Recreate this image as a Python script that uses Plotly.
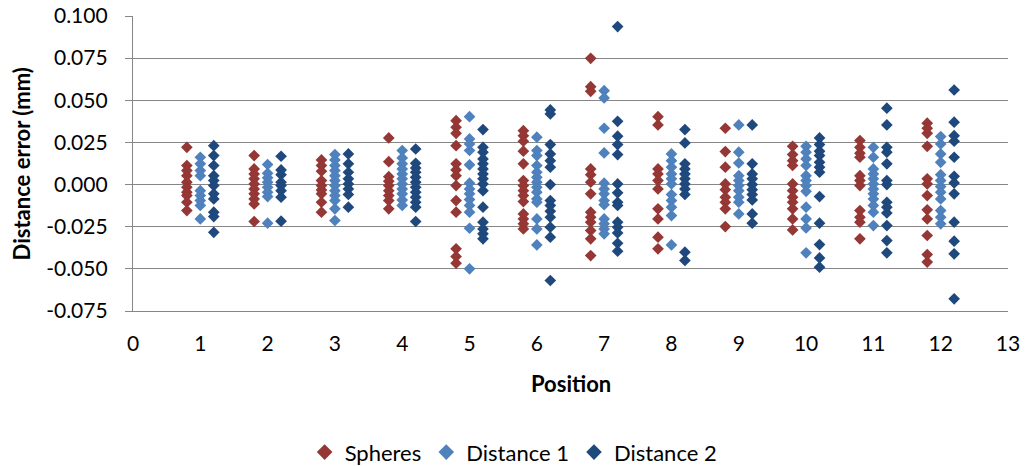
import plotly.graph_objects as go

positions = [1, 2, 3, 4, 5, 6, 7, 8, 9, 10, 11, 12]

spheres = [
    [0.0221, 0.0113, 0.0083, 0.0053, 0.0014, -0.0016, -0.0045, -0.0065, -0.0105, -0.0154],
    [0.0172, 0.0093, 0.0063, 0.0034, 0.0004, -0.0026, -0.0055, -0.0085, -0.0115, -0.0219],
    [0.0146, 0.0113, 0.0079, 0.0024, -0.0006, -0.0032, -0.0055, -0.0105, -0.0164],
    [0.0277, 0.0136, 0.0047, 0.0020, -0.0006, -0.0036, -0.0065, -0.0095, -0.0144],
    [0.0379, 0.0340, 0.0304, 0.0231, 0.0123, 0.0087, 0.0053, -0.0006, -0.0095, -0.0164, -0.0381, -0.0427, -0.0466],
    [0.0320, 0.0290, 0.0257, 0.0198, 0.0123, 0.0024, -0.0006, -0.0036, -0.0065, -0.0101, -0.0174, -0.0204, -0.0233, -0.0263],
    [0.0749, 0.0581, 0.0553, 0.0093, 0.0059, 0.0014, -0.0055, -0.0164, -0.0194, -0.0223, -0.0273, -0.0322, -0.0421],
    [0.0403, 0.0354, 0.0093, 0.0063, 0.0024, -0.0026, -0.0144, -0.0204, -0.0312, -0.0381],
    [0.0334, 0.0196, 0.0103, 0.0004, -0.0030, -0.0075, -0.0105, -0.0144, -0.0249],
    [0.0227, 0.0178, 0.0142, 0.0113, 0.0004, -0.0036, -0.0075, -0.0105, -0.0144, -0.0204, -0.0269],
    [0.0261, 0.0221, 0.0186, 0.0162, 0.0053, 0.0024, -0.0006, -0.0154, -0.0194, -0.0223, -0.0322],
    [0.0364, 0.0334, 0.0304, 0.0227, 0.0034, 0.0004, -0.0065, -0.0150, -0.0204, -0.0302, -0.0415, -0.0460],
]

distance1 = [
    [0.0162, 0.0123, 0.0083, 0.0053, -0.0036, -0.0065, -0.0095, -0.0124, -0.0204],
    [0.0119, 0.0067, 0.0040, 0.0014, -0.0016, -0.0045, -0.0071, -0.0229],
    [0.0178, 0.0146, 0.0113, 0.0083, 0.0053, 0.0024, -0.0006, -0.0036, -0.0065, -0.0095, -0.0144, -0.0213],
    [0.0202, 0.0158, 0.0123, 0.0093, 0.0063, 0.0034, 0.0004, -0.0026, -0.0055, -0.0091, -0.0124],
    [0.0403, 0.0271, 0.0241, 0.0202, 0.0117, 0.0008, -0.0026, -0.0055, -0.0089, -0.0124, -0.0164, -0.0259, -0.0500],
    [0.0281, 0.0202, 0.0172, 0.0113, 0.0073, 0.0043, 0.0014, -0.0016, -0.0045, -0.0085, -0.0105, -0.0204, -0.0263, -0.0358],
    [0.0557, 0.0514, 0.0334, 0.0188, 0.0008, -0.0026, -0.0055, -0.0095, -0.0119, -0.0204, -0.0233, -0.0263, -0.0292],
    [0.0182, 0.0142, 0.0103, 0.0063, 0.0034, 0.0004, -0.0059, -0.0095, -0.0134, -0.0184, -0.0358],
    [0.0354, 0.0192, 0.0128, 0.0053, 0.0024, -0.0006, -0.0036, -0.0075, -0.0105, -0.0174],
    [0.0227, 0.0192, 0.0152, 0.0113, 0.0053, 0.0024, -0.0006, -0.0040, -0.0134, -0.0204, -0.0257, -0.0405],
    [0.0221, 0.0162, 0.0093, 0.0063, 0.0034, 0.0004, -0.0026, -0.0055, -0.0085, -0.0124, -0.0164, -0.0243],
    [0.0285, 0.0241, 0.0182, 0.0132, 0.0059, 0.0024, -0.0012, -0.0045, -0.0085, -0.0154, -0.0194, -0.0233],
]

distance2 = [
    [0.0231, 0.0172, 0.0113, 0.0053, 0.0024, -0.0006, -0.0055, -0.0085, -0.0164, -0.0190, -0.0283],
    [0.0168, 0.0087, 0.0059, 0.0014, -0.0006, -0.0036, -0.0075, -0.0217],
    [0.0182, 0.0123, 0.0073, 0.0034, 0.0004, -0.0026, -0.0059, -0.0134],
    [0.0211, 0.0126, 0.0099, 0.0073, 0.0043, 0.0014, -0.0016, -0.0045, -0.0075, -0.0105, -0.0134, -0.0219],
    [0.0326, 0.0221, 0.0192, 0.0152, 0.0123, 0.0093, 0.0063, 0.0034, 0.0004, -0.0036, -0.0134, -0.0223, -0.0263, -0.0292, -0.0322],
    [0.0443, 0.0419, 0.0237, 0.0182, 0.0142, 0.0103, 0.0000, -0.0095, -0.0124, -0.0158, -0.0194, -0.0253, -0.0312, -0.0569],
    [0.0937, 0.0375, 0.0287, 0.0237, 0.0178, 0.0004, -0.0049, -0.0105, -0.0124, -0.0223, -0.0253, -0.0287, -0.0348, -0.0395],
    [0.0326, 0.0247, 0.0123, 0.0093, 0.0063, 0.0034, 0.0004, -0.0026, -0.0059, -0.0401, -0.0450],
    [0.0354, 0.0123, 0.0063, 0.0034, 0.0000, -0.0030, -0.0059, -0.0091, -0.0174, -0.0229],
    [0.0277, 0.0237, 0.0198, 0.0172, 0.0132, 0.0103, 0.0073, -0.0071, -0.0229, -0.0356, -0.0435, -0.0490],
    [0.0453, 0.0354, 0.0221, 0.0192, 0.0123, 0.0024, 0.0000, -0.0105, -0.0134, -0.0168, -0.0243, -0.0332, -0.0405],
    [0.0561, 0.0370, 0.0290, 0.0257, 0.0162, 0.0049, 0.0010, -0.0055, -0.0223, -0.0336, -0.0411, -0.0678],
]

series_names = ["Spheres", "Distance 1", "Distance 2"]
series_colors = ["#953735", "#4F81BD", "#1F497D"]
series_offsets = [-0.2, 0.0, 0.2]

y_tickvals = [-0.075, -0.05, -0.025, 0.0, 0.025, 0.05, 0.075, 0.1]
y_ticktext = ["-0.075", "-0.050", "-0.025", "0.000", "0.025", "0.050", "0.075", "0.100"]
x_tickvals = list(range(0, 14))

FONT = "Lato, Open Sans, sans-serif"

fig = go.Figure()
for name, color, off, data in zip(series_names, series_colors, series_offsets,
                                  [spheres, distance1, distance2]):
    xs, ys = [], []
    for p, vals in zip(positions, data):
        for v in vals:
            xs.append(p + off)
            ys.append(v)
    fig.add_trace(go.Scatter(
        x=xs, y=ys, mode="markers", name=name,
        marker=dict(symbol="diamond", size=9, color=color, line=dict(width=0)),
    ))

fig.update_layout(
    width=1026, height=466,
    margin=dict(l=133, r=18, t=16, b=155, autoexpand=False),
    paper_bgcolor="white", plot_bgcolor="white",
    font=dict(family=FONT, size=21, color="#000000"),
    showlegend=True,
    legend=dict(orientation="h", xref="paper", yref="paper",
                x=0.435, xanchor="center", y=-0.479, yanchor="middle",
                font=dict(size=22), itemsizing="constant",
                bgcolor="rgba(0,0,0,0)"),
    xaxis=dict(range=[0, 13], tickvals=x_tickvals, showgrid=False, zeroline=False,
               showline=True, linecolor="#868686", linewidth=1.3,
               ticks="", ticklabelstandoff=14, tickfont=dict(size=21)),
    yaxis=dict(range=[-0.075, 0.1], tickvals=y_tickvals, ticktext=y_ticktext,
               showgrid=True, gridcolor="#868686", gridwidth=1.3, zeroline=False,
               showline=True, linecolor="#868686", linewidth=1.3,
               ticks="outside", ticklen=7, tickcolor="#868686", tickwidth=1.3,
               ticklabelstandoff=13, tickfont=dict(size=21)),
    annotations=[
        dict(text="<b>Distance error (mm)</b>", textangle=-90, showarrow=False,
             xref="paper", yref="paper", x=-0.127, y=0.5,
             xanchor="center", yanchor="middle", font=dict(size=22)),
        dict(text="<b>Position</b>", showarrow=False,
             xref="paper", yref="paper", x=0.5, y=-0.245,
             xanchor="center", yanchor="middle", font=dict(size=22)),
    ],
)

fig.write_html("out.html",
               config={"displayModeBar": False},
               post_script="document.body.style.margin='0';document.body.style.overflow='hidden';")
